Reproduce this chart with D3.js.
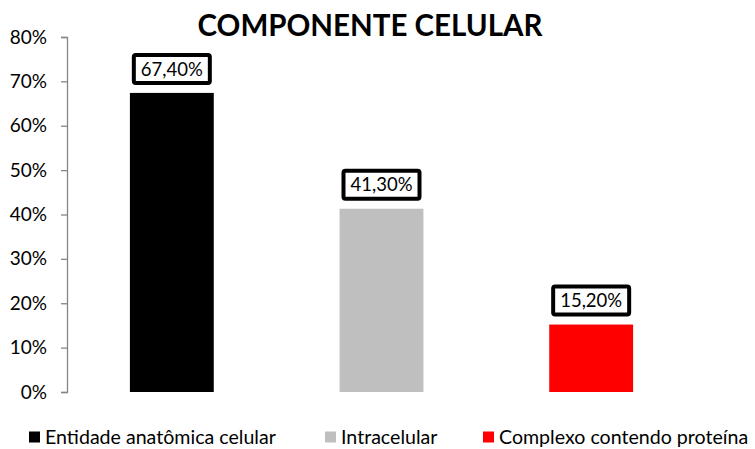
<!DOCTYPE html>
<html><head><meta charset="utf-8">
<script src="https://cdn.jsdelivr.net/npm/d3@7"></script>
<style>body{margin:0;background:#fff;}text{font-family:Lato,"Open Sans",sans-serif;}</style>
</head><body>
<svg id="c" width="755" height="449"></svg>
<script>
const categories = ["Entidade anatômica celular", "Intracelular", "Complexo contendo proteína"];
const values = [67.4, 41.3, 15.2];
const labels = ["67,40%", "41,30%", "15,20%"];
const colors = ["#000000", "#bfbfbf", "#ff0000"];
const yTicks = [0, 10, 20, 30, 40, 50, 60, 70, 80];
const title = "COMPONENTE CELULAR";

const svg = d3.select("#c");
const x = d3.scaleBand().domain(categories).range([67, 696]).paddingInner(0.6).paddingOuter(0.3);
const y = d3.scaleLinear().domain([0, 80]).range([392, 37]);

svg.append("text").attr("x", 370).attr("y", 36).attr("text-anchor", "middle")
  .attr("font-weight", "bold").attr("font-size", 29.5).text(title);

const ax = svg.append("g").attr("transform", "translate(67,0)")
  .call(d3.axisLeft(y).tickValues(yTicks).tickSize(6).tickPadding(14).tickFormat(d => d + "%"));
ax.select(".domain").attr("stroke", "#868686").attr("stroke-width", 1.3);
ax.selectAll(".tick line").attr("stroke", "#868686").attr("stroke-width", 1.3);
ax.selectAll(".tick text").attr("font-size", 19).attr("fill", "#000").attr("font-family", "Lato,sans-serif");

svg.selectAll("rect.bar").data(values).join("rect").attr("class", "bar")
  .attr("x", (d, i) => x(categories[i])).attr("width", x.bandwidth())
  .attr("y", d => y(d)).attr("height", d => y(0) - y(d))
  .attr("fill", (d, i) => colors[i]);

const lg = svg.selectAll("g.lab").data(values).join("g").attr("class", "lab")
  .attr("transform", (d, i) => `translate(${x(categories[i]) + x.bandwidth() / 2},${y(d) - 24})`);
lg.append("rect").attr("x", -38).attr("y", -14).attr("width", 76).attr("height", 28)
  .attr("rx", 2).attr("fill", "#fff").attr("stroke", "#000").attr("stroke-width", 4);
lg.append("text").attr("text-anchor", "middle").attr("dy", "0.36em").attr("font-size", 18.5)
  .text((d, i) => labels[i]);

const legX = [29, 325, 483];
const leg = svg.selectAll("g.leg").data(categories).join("g").attr("class", "leg")
  .attr("transform", (d, i) => `translate(${legX[i]},437)`);
leg.append("rect").attr("x", 0).attr("y", -5.5).attr("width", 11).attr("height", 11)
  .attr("fill", (d, i) => colors[i]);
leg.append("text").attr("x", 16).attr("dy", "0.36em").attr("font-size", 19.6).text(d => d);
</script>
</body></html>
